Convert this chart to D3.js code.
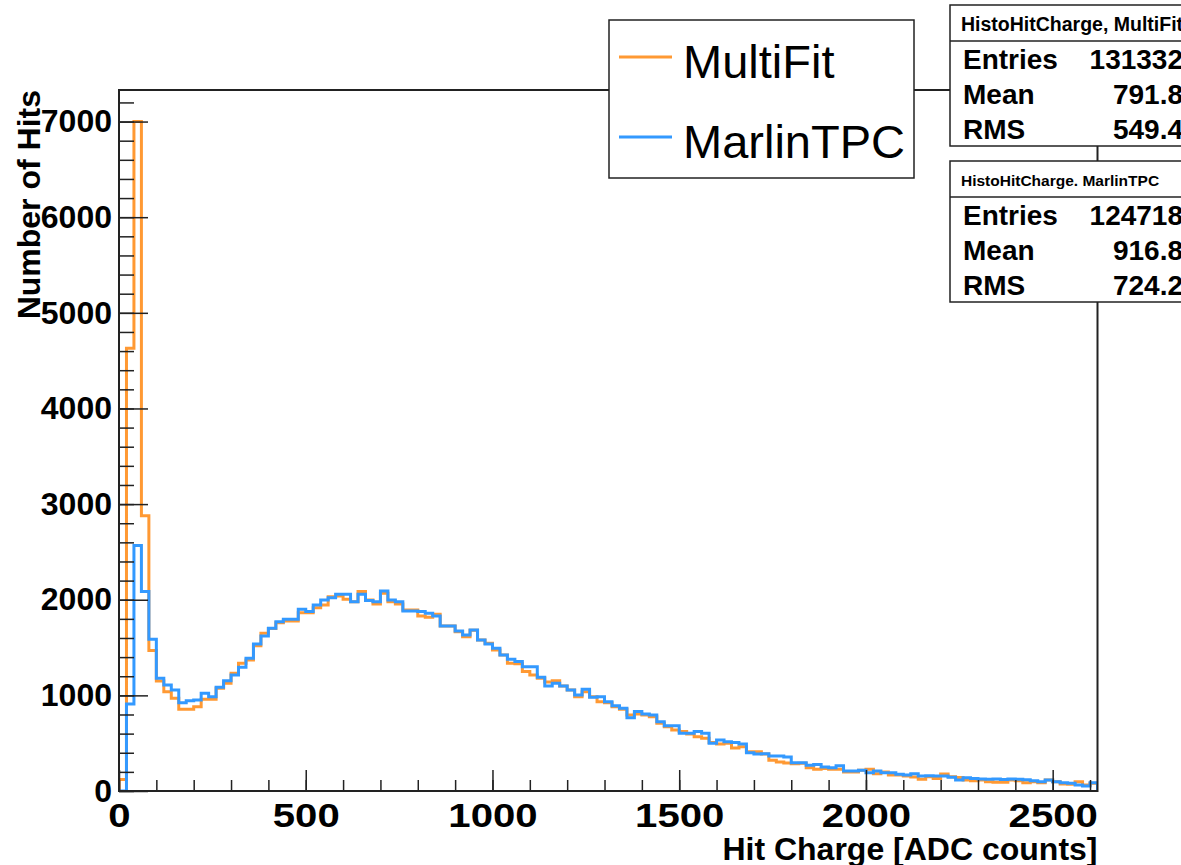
<!DOCTYPE html>
<html>
<head>
	<meta charset="utf-8">
	<title>Hit Charge</title>
	<script src="https://d3js.org/d3.v7.min.js"></script>
	<style>
		body { margin: 0; background: #fff; }
		text { font-family: "Liberation Sans", Arial, sans-serif; }
	</style>
</head>
<body>
	<script>
		// bins of 20 ADC counts, from 0 to 2620
		var binWidth = 20
		var xMax = 2620
		var yMax = 7330

		var multiFit = [
			120, 4630, 7000, 2877, 1468, 1150, 1039, 970, 855, 855,
			882, 959, 959, 1074, 1127, 1231, 1336, 1370, 1520, 1650,
			1700, 1760, 1778, 1778, 1865, 1865, 1917, 1946, 2030, 2040,
			2005, 1980, 2085, 1998, 1956, 2068, 1980, 1956, 1893, 1893,
			1831, 1817, 1848, 1726, 1726, 1666, 1614, 1680, 1579, 1545,
			1475, 1423, 1336, 1330, 1250, 1213, 1178, 1140, 1154, 1098,
			1056, 986, 1039, 986, 934, 922, 882, 855, 795, 805,
			795, 777, 708, 673, 638, 621, 596, 568, 551, 506,
			492, 500, 450, 464, 411, 411, 387, 321, 304, 293,
			286, 290, 244, 227, 234, 227, 227, 199, 199, 216,
			227, 181, 199, 168, 168, 157, 146, 122, 150, 132,
			178, 150, 140, 115, 108, 115, 98, 91, 91, 115,
			108, 87, 98, 87, 115, 98, 73, 70, 98, 63,
			80
		]

		var marlinTPC = [
			0, 910, 2566, 2085, 1587, 1179, 1109, 1056, 924, 945,
			952, 1022, 986, 1085, 1154, 1213, 1294, 1388, 1538, 1621,
			1702, 1771, 1796, 1796, 1900, 1876, 1946, 1998, 2022, 2057,
			2057, 1980, 2057, 1991, 1980, 2092, 1998, 1980, 1883, 1883,
			1876, 1858, 1831, 1726, 1726, 1673, 1632, 1684, 1579, 1538,
			1492, 1423, 1377, 1353, 1300, 1300, 1189, 1098, 1126, 1098,
			1056, 1004, 1063, 980, 986, 934, 892, 865, 767, 830,
			805, 795, 725, 683, 683, 603, 603, 621, 603, 499,
			533, 516, 506, 492, 401, 387, 390, 366, 366, 356,
			296, 296, 269, 276, 251, 244, 265, 209, 209, 216,
			192, 209, 192, 192, 174, 168, 181, 157, 160, 157,
			157, 143, 115, 139, 132, 125, 122, 125, 120, 125,
			122, 118, 108, 98, 115, 98, 87, 80, 63, 52,
			87
		]

		var seriesNames = ["MultiFit", "MarlinTPC"]
		var seriesColors = ["#ff9933", "#3399ff"]

		var xTicks = [0, 500, 1000, 1500, 2000, 2500]
		var yTicks = [0, 1000, 2000, 3000, 4000, 5000, 6000, 7000]

		var statTitles = ["HistoHitCharge, MultiFit", "HistoHitCharge. MarlinTPC"]
		var statLabels = ["Entries", "Mean", "RMS"]
		var statValues = [["131332", "791.8", "549.4"], ["124718", "916.8", "724.2"]]

		var width = 1181
		var height = 865
		var margin = ({top: 90, right: 83.5, bottom: 74, left: 119})

		var svg = d3.select("body").append("svg")
			.attr("width", width)
			.attr("height", height)

		var x = d3.scaleLinear([0, xMax], [margin.left, width - margin.right])
		var y = d3.scaleLinear([0, yMax], [height - margin.bottom, margin.top])

		svg.append("clipPath").attr("id", "plot")
			.append("rect")
			.attr("x", x(0)).attr("y", y(yMax))
			.attr("width", x(xMax) - x(0)).attr("height", y(0) - y(yMax))

		// histograms as steps, MultiFit first so MarlinTPC lies on top
		function steps(vals) {
			var pts = [[0, 0]]
			vals.forEach(function(v, i) { pts.push([i * binWidth, v]) })
			pts.push([vals.length * binWidth, vals[vals.length - 1]])
			pts.push([vals.length * binWidth, 0])
			return pts
		}

		var line = d3.line()
			.x(d => x(d[0]))
			.y(d => y(d[1]))
			.curve(d3.curveStepAfter)

		var g = svg.append("g").attr("clip-path", "url(#plot)")
		;[multiFit, marlinTPC].forEach(function(vals, k) {
			g.append("path")
				.attr("d", line(steps(vals)))
				.attr("fill", "none")
				.attr("stroke", seriesColors[k])
				.attr("stroke-width", 3)
				.attr("stroke-linejoin", "miter")
		})

		// axes, ROOT style: ticks pointing inside the frame
		var yMinor = svg.append("g")
			.attr("transform", `translate(${x(0)},0)`)
			.call(d3.axisLeft(y).tickValues(d3.range(0, yMax, 200)).tickSize(-15).tickFormat(""))
		var yMajor = svg.append("g")
			.attr("transform", `translate(${x(0)},0)`)
			.call(d3.axisLeft(y).tickValues(yTicks).tickSize(-29).tickPadding(7).tickFormat(d3.format("d")))

		var xMinor = svg.append("g")
			.attr("transform", `translate(0,${y(0)})`)
			.call(d3.axisBottom(x).tickValues(d3.range(0, xMax, 100)).tickSize(-11).tickFormat(""))
		var xMajor = svg.append("g")
			.attr("transform", `translate(0,${y(0)})`)
			.call(d3.axisBottom(x).tickValues(xTicks).tickSize(-21).tickPadding(12).tickFormat(d3.format("d")))

		;[yMinor, yMajor, xMinor, xMajor].forEach(function(a) {
			a.select(".domain").remove()
			a.selectAll("line").attr("stroke", "#222").attr("stroke-width", 1.5)
			a.selectAll("text")
				.attr("fill", "#000")
				.style("font-family", '"Liberation Sans", Arial, sans-serif')
				.style("font-weight", "bold")
		})
		yMajor.selectAll("text").style("font-size", "32px")
		// the x labels are drawn a bit wider than normal in the original
		xMajor.selectAll("text")
			.style("font-size", "34px")
			.attr("transform", "scale(1.18,1)")

		svg.append("rect")
			.attr("x", x(0)).attr("y", y(yMax))
			.attr("width", x(xMax) - x(0)).attr("height", y(0) - y(yMax))
			.attr("fill", "none")
			.attr("stroke", "#222")
			.attr("stroke-width", 2)

		// axis titles
		svg.append("text")
			.attr("x", x(xMax))
			.attr("y", 860)
			.attr("text-anchor", "end")
			.style("font-size", "32px")
			.style("font-weight", "bold")
			.text("Hit Charge [ADC counts]")

		svg.append("text")
			.attr("transform", `translate(40,${y(yMax)}) rotate(-90)`)
			.attr("text-anchor", "end")
			.style("font-size", "32px")
			.style("font-weight", "bold")
			.text("Number of Hits")

		// legend
		var legend = svg.append("g")
		legend.append("rect")
			.attr("x", 609).attr("y", 20)
			.attr("width", 305).attr("height", 158)
			.attr("fill", "#fff")
			.attr("stroke", "#222")
			.attr("stroke-width", 1.5)
		seriesNames.forEach(function(name, k) {
			var ly = 57 + k * 80
			legend.append("line")
				.attr("x1", 619).attr("x2", 672)
				.attr("y1", ly).attr("y2", ly)
				.attr("stroke", seriesColors[k])
				.attr("stroke-width", 3)
			legend.append("text")
				.attr("x", 683)
				.attr("y", ly + 21)
				.style("font-size", "47px")
				.text(name)
		})

		// statistics boxes
		statTitles.forEach(function(title, k) {
			var top = k == 0 ? 5 : 161
			var box = svg.append("g")
			box.append("rect")
				.attr("x", 950).attr("y", top)
				.attr("width", 260).attr("height", 141)
				.attr("fill", "#fff")
				.attr("stroke", "#222")
				.attr("stroke-width", 1.5)
			box.append("line")
				.attr("x1", 950).attr("x2", 1210)
				.attr("y1", top + 36).attr("y2", top + 36)
				.attr("stroke", "#222")
				.attr("stroke-width", 1.5)
			box.append("text")
				.attr("x", 961)
				.attr("y", top + (k == 0 ? 26 : 25))
				.style("font-size", k == 0 ? "19.5px" : "15.5px")
				.style("font-weight", "bold")
				.text(title)
			statLabels.forEach(function(lab, j) {
				var by = top + 64 + j * 35
				box.append("text")
					.attr("x", 963).attr("y", by)
					.style("font-size", "28px")
					.style("font-weight", "bold")
					.text(lab)
				box.append("text")
					.attr("x", 1183).attr("y", by)
					.attr("text-anchor", "end")
					.style("font-size", "28px")
					.style("font-weight", "bold")
					.text(statValues[k][j])
			})
		})
	</script>
</body>
</html>
